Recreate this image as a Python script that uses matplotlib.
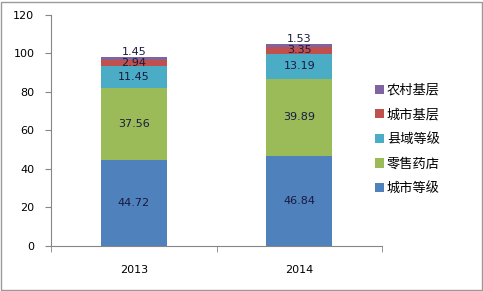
import matplotlib.pyplot as plt
import numpy as np

plt.rcParams['font.family'] = ['Noto Sans CJK SC', 'DejaVu Sans']

# --- data ---
years = ['2013', '2014']
series_names = ['城市等级', '零售药店', '县域等级', '城市基层', '农村基层']
city_level = [44.72, 46.84]
retail = [37.56, 39.89]
county = [11.45, 13.19]
city_base = [2.94, 3.35]
rural_base = [1.45, 1.53]

series = [city_level, retail, county, city_base, rural_base]
colors = ['#4F81BD', '#9BBB59', '#4BACC6', '#C0504D', '#8064A2']

fig = plt.figure(figsize=(4.83, 2.91), dpi=100)
ax = fig.add_axes([51 / 483, 1 - 245.7 / 291, 331 / 483, 230.7 / 291])

x = np.arange(len(years))
bottom = np.zeros(len(years))
handles = []
for name, vals, col in zip(series_names, series, colors):
    vals = np.array(vals)
    h = ax.bar(x, vals, width=0.4, bottom=bottom, color=col, label=name, zorder=2)
    handles.append(h)
    for xi, b, v in zip(x, bottom, vals):
        y = b + v / 2
        if name == '农村基层':
            y = b + v + 2.5
        ax.text(xi, y, f'{v:.2f}', ha='center', va='center', fontsize=8,
                color='#1a1a40', family='DejaVu Sans', zorder=3)
    bottom += vals

ax.set_xlim(-0.5, 1.5)
ax.set_ylim(0, 120)
ax.set_yticks(range(0, 121, 20))
ax.set_xticks(x)
ax.set_xticklabels(years)
ax.set_xticks([-0.5, 0.5, 1.5], minor=True)
ax.tick_params(axis='x', which='major', length=0, pad=14, labelsize=8)
ax.tick_params(axis='x', which='minor', length=4, color='#868686')
ax.tick_params(axis='y', length=4, color='#868686', labelsize=8, pad=8)
for lab in ax.get_xticklabels() + ax.get_yticklabels():
    lab.set_family('DejaVu Sans')
for s in ['top', 'right']:
    ax.spines[s].set_visible(False)
for s in ['left', 'bottom']:
    ax.spines[s].set_color('#868686')

leg = fig.legend(handles[::-1], series_names[::-1], loc='upper left',
                 bbox_to_anchor=(363 / 483, 1 - 72 / 291), frameon=False,
                 fontsize=9.5, handlelength=0.7, handleheight=0.7,
                 handletextpad=0.2, labelspacing=0.88)

# outer frame
fig.patches.append(plt.Rectangle((0.003, 0.004), 0.994, 0.99, transform=fig.transFigure,
                                 fill=False, edgecolor='#9a9a9a', linewidth=1))

fig.savefig('out.png', dpi=100)
